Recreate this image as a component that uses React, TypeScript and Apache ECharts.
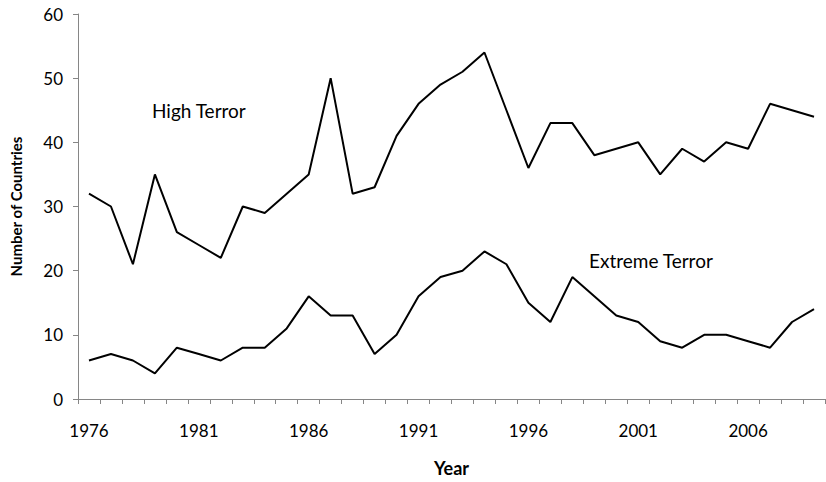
import React, { useEffect, useRef } from "react";
import * as echarts from "echarts";

const years: string[] = [];
for (let y = 1976; y <= 2009; y++) years.push(String(y));

const highTerror = [32, 30, 21, 35, 26, 24, 22, 30, 29, 32, 35, 50, 32, 33, 41, 46, 49, 51, 54, 45, 36, 43, 43, 38, 39, 40, 35, 39, 37, 40, 39, 46, 45, 44];
const extremeTerror = [6, 7, 6, 4, 8, 7, 6, 8, 8, 11, 16, 13, 13, 7, 10, 16, 19, 20, 23, 21, 15, 12, 19, 16, 13, 12, 9, 8, 10, 10, 9, 8, 12, 14];

const yTicks = [0, 10, 20, 30, 40, 50, 60];

const FONT = "Lato, Open Sans, sans-serif";

export default function App() {
  const ref = useRef<HTMLDivElement>(null);
  useEffect(() => {
    if (!ref.current) return;
    const chart = echarts.init(ref.current, null, { renderer: "svg" });
    chart.setOption({
      animation: false,
      backgroundColor: "#ffffff",
      grid: { left: 72, right: 1, top: 14, bottom: 81, containLabel: false },
      xAxis: {
        type: "category",
        data: years,
        boundaryGap: true,
        name: "Year",
        nameLocation: "middle",
        nameGap: 60,
        nameTextStyle: { fontFamily: FONT, fontWeight: "bold", fontSize: 18, color: "#000" },
        axisLine: { lineStyle: { color: "#868686", width: 1 } },
        axisTick: { show: true, alignWithLabel: false, interval: 0, length: 5, lineStyle: { color: "#868686" } },
        axisLabel: {
          interval: 4,
          margin: 23,
          fontFamily: FONT,
          fontSize: 17,
          color: "#000",
        },
        splitLine: { show: false },
      },
      yAxis: {
        type: "value",
        min: yTicks[0],
        max: yTicks[yTicks.length - 1],
        interval: 10,
        name: "Number of Countries",
        nameLocation: "middle",
        nameGap: 55,
        nameRotate: 90,
        nameTextStyle: { fontFamily: FONT, fontWeight: "bold", fontSize: 15, color: "#000" },
        axisLine: { show: true, lineStyle: { color: "#868686", width: 1 } },
        axisTick: { show: true, length: 5, lineStyle: { color: "#868686" } },
        axisLabel: { margin: 15, fontFamily: FONT, fontSize: 17, color: "#000" },
        splitLine: { show: false },
      },
      series: [
        {
          name: "High Terror",
          type: "line",
          data: highTerror,
          symbol: "none",
          lineStyle: { color: "#000", width: 2 },
        },
        {
          name: "Extreme Terror",
          type: "line",
          data: extremeTerror,
          symbol: "none",
          lineStyle: { color: "#000", width: 2 },
        },
      ],
      graphic: [
        {
          type: "text",
          left: 152,
          top: 101,
          style: { text: "High Terror", fontFamily: FONT, fontSize: 19, fill: "#000" },
        },
        {
          type: "text",
          left: 589,
          top: 251,
          style: { text: "Extreme Terror", fontFamily: FONT, fontSize: 19, fill: "#000" },
        },
      ],
    });
    return () => chart.dispose();
  }, []);
  return <div ref={ref} style={{ width: 826, height: 482, position: "absolute", left: 0, top: 0 }} />;
}
